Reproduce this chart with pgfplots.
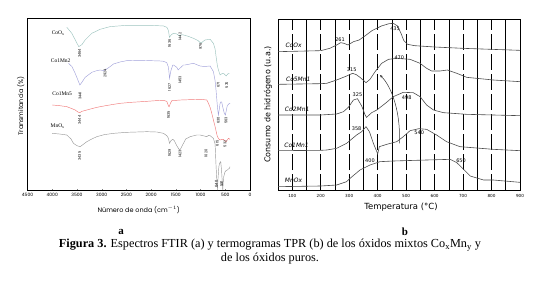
\documentclass[border=0pt]{standalone}
\usepackage{pgfplots}
\pgfplotsset{compat=1.18}
\usepackage{fontspec}
\setmainfont{Liberation Serif}
\newfontfamily\lsans{Poppins}
\newfontfamily\rsans{DejaVu Sans}
\usetikzlibrary{arrows.meta}
\definecolor{cCo}{HTML}{9CC3BE}
\definecolor{cMn2}{HTML}{A2A2DA}
\definecolor{cMn5}{HTML}{F07A7A}
\definecolor{cMn}{HTML}{9A9A9A}
\begin{document}
\begin{tikzpicture}[x=1bp,y=1bp,
  peak/.style={font=\lsans\fontsize{3.6}{4}\selectfont, rotate=90, inner sep=0pt},
  nmA/.style={font=\fontsize{5.5}{6}\selectfont, inner sep=0.5pt},
  pk/.style={font=\rsans\fontsize{5}{6}\selectfont, inner sep=0.5pt},
  nmB/.style={font=\rsans\itshape\fontsize{6}{7}\selectfont, inner sep=0.5pt, anchor=west}]
\useasboundingbox (0,0) rectangle (539,284);
% ---------------- panel a: FTIR ----------------
\begin{axis}[at={(27.5bp,93.3bp)}, anchor=south west, scale only axis,
  width=222.5bp, height=172.4bp,
  xmin=0, xmax=4500, x dir=reverse, ymin=0, ymax=517,
  ytick=\empty, xtick={0,500,...,4500}, minor x tick num=4,
  tick align=inside, xtick pos=bottom, major tick length=2bp, minor tick length=1bp,
  axis line style={line width=0.7pt},
  xticklabel style={font=\lsans\fontsize{4.5}{5}\selectfont, yshift=1bp},
  xlabel={Número de onda (cm$^{-1}$)},
  xlabel style={font=\lsans\fontsize{6.5}{7}\selectfont, at={(axis description cs:0.5,-0.11)}, anchor=center},
  ylabel={Transmitancia (\%)},
  ylabel style={font=\lsans\fontsize{6.5}{7}\selectfont, at={(axis description cs:-0.03,0.49)}, anchor=center},
  clip=false,
  /pgf/number format/.cd, 1000 sep={}, assume math mode=true,
]
\addplot[cCo, line width=0.45pt] coordinates {
(3705,490) (3604,472) (3516,447) (3464,432) (3400,438) (3334,452) (3199,472) (3031,484)
(2829,492) (2492,496) (2020,496) (1750,494) (1683,490) (1649,480) (1629,460) (1590,468)
(1548,472) (1480,470) (1427,464) (1380,468) (1346,467) (1250,463) (1144,457) (1050,450)
(1009,444) (976,444) (930,450) (908,452) (807,454) (740,442) (706,425) (686,402) (660,375)
(639,362) (605,347) (580,350) (551,352) (520,350) (484,344) (450,350) (417,352)};
\addplot[cMn2, line width=0.45pt] coordinates {
(3671,382) (3600,372) (3536,352) (3489,335) (3441,317) (3400,325) (3334,340) (3199,355)
(3098,360) (3031,362) (2963,360) (2930,362) (2829,372) (2761,380) (2627,386) (2492,390)
(2222,391) (2020,390) (1818,389) (1750,388) (1683,384) (1649,370) (1627,337) (1600,360)
(1562,377) (1548,377) (1481,370) (1453,362) (1413,368) (1346,377) (1312,377) (1144,382)
(1077,378) (1009,374) (908,372) (874,373) (807,374) (740,357) (706,330) (686,300) (665,262)
(650,240) (639,227) (625,240) (605,262) (585,267) (571,265) (550,250) (520,232) (497,227)
(480,240) (460,255) (430,260) (403,262)};
\addplot[cMn5, line width=0.45pt] coordinates {
(4000,257) (3850,255) (3705,252) (3600,246) (3536,242) (3480,236) (3444,234) (3400,238)
(3300,242) (3150,248) (3031,252) (2800,258) (2627,262) (2400,265) (2087,268) (1900,270)
(1750,271) (1683,268) (1649,254) (1635,252) (1610,262) (1580,270) (1400,272) (1211,273)
(1000,274) (874,272) (841,262) (807,250) (773,232) (740,212) (706,192) (680,175) (659,162)
(630,155) (605,152) (570,154) (538,154) (510,150) (484,147) (460,152) (437,157) (403,154)};
\addplot[cMn, line width=0.45pt] coordinates {
(4000,172) (3850,170) (3705,167) (3620,155) (3570,142) (3500,135) (3435,132) (3380,138)
(3300,147) (3200,155) (3098,162) (2950,168) (2761,172) (2500,175) (2087,177) (1885,176)
(1750,172) (1683,165) (1649,157) (1629,142) (1600,150) (1562,154) (1530,150) (1481,135)
(1427,122) (1400,126) (1346,142) (1300,155) (1211,162) (1077,167) (1009,167) (950,165)
(874,162) (840,166) (807,165) (740,157) (706,140) (686,72) (670,30) (659,2) (650,30)
(630,72) (619,80) (605,85) (592,87) (575,60) (551,2) (535,40) (504,57) (484,60) (457,62)
(437,65) (416,67) (405,72)};
% series names
\node[nmA, fill=white] at (axis cs:3880,472) {CoO\textsubscript{x}};
\node[nmA, fill=white] at (axis cs:3830,390) {Co1Mn2};
\node[nmA] at (axis cs:3800,292) {Co1Mn5};
\node[nmA] at (axis cs:3890,192) {MnO\textsubscript{x}};
% peak labels
\node[peak] at (axis cs:3449,412) {3464};
\node[peak] at (axis cs:1629,442) {1636};
\node[peak] at (axis cs:1413,462) {1442};
\node[peak] at (axis cs:1000,432) {976};
\node[peak] at (axis cs:639,317) {671};
\node[peak] at (axis cs:470,317) {570};
\node[peak] at (axis cs:3435,284) {3441};
\node[peak] at (axis cs:2930,352) {2924};
\node[peak] at (axis cs:1629,310) {1627};
\node[peak] at (axis cs:1413,332) {1453};
\node[peak] at (axis cs:639,210) {630};
\node[peak] at (axis cs:484,210) {563};
\node[peak] at (axis cs:3449,212) {3444};
\node[peak] at (axis cs:1649,227) {1635};
\node[peak] at (axis cs:659,142) {615};
\node[peak] at (axis cs:504,140) {532};
\node[peak] at (axis cs:3449,104) {3435};
\node[peak] at (axis cs:1629,114) {1629};
\node[peak] at (axis cs:1413,110) {1423};
\node[peak] at (axis cs:890,112) {1020};
\node[peak] at (axis cs:680,20) {640};
\node[peak] at (axis cs:575,20) {591};
\end{axis}
% ---------------- panel b: TPR ----------------
\begin{axis}[at={(278bp,94bp)}, anchor=south west, scale only axis,
  width=242bp, height=171bp,
  xmin=50, xmax=900, ymin=0, ymax=513,
  ytick=\empty, xtick={100,200,...,900}, minor xtick={150,250,...,850},
  xtick pos=bottom, major tick length=0pt, minor tick length=0pt,
  xmajorgrids, xminorgrids,
  major grid style={black, line width=0.6pt, dash pattern=on 16bp off 4bp},
  minor grid style={black, line width=0.6pt},
  axis line style={line width=0.8pt},
  xticklabel style={font=\rsans\fontsize{4.2}{5}\selectfont, yshift=-1bp},
  xlabel={Temperatura (°C)},
  xlabel style={font=\rsans\fontsize{8.5}{9}\selectfont, at={(axis description cs:0.508,-0.1)}, anchor=center},
  ylabel={Consumo de hidrógeno (u.a.)},
  ylabel style={font=\rsans\fontsize{8}{9}\selectfont, at={(axis description cs:-0.041,0.5)}, anchor=center},
  clip=false,
  /pgf/number format/.cd, 1000 sep={}, assume math mode=true,
]
\addplot[black!70, line width=0.6pt] coordinates {
(50,415) (200,418) (232,425) (256,435) (270,442) (282,440) (296,435) (315,445) (335,450)
(355,462) (380,478) (413,492) (440,499) (455,500) (470,492) (482,470) (492,448) (505,437)
(530,433) (600,429) (700,425) (800,422) (900,419)};
\addplot[black!70, line width=0.6pt] coordinates {
(50,317) (200,319) (221,320) (256,330) (291,342) (312,350) (325,346) (338,338) (359,322)
(373,332) (391,355) (414,380) (438,392) (467,395) (514,392) (549,380) (572,365) (590,357)
(619,357) (645,360) (678,350) (713,338) (806,330) (900,325)};
\addplot[black!70, line width=0.6pt] coordinates {
(50,225) (200,225) (256,228) (280,235) (297,248) (315,270) (329,274) (344,252) (356,225)
(361,218) (379,232) (397,240) (427,260) (455,280) (490,293) (525,292) (549,280) (572,255)
(596,240) (631,232) (713,227) (900,223)};
\addplot[black!70, line width=0.6pt] coordinates {
(50,118) (200,119) (221,120) (256,125) (291,140) (326,165) (344,175) (359,190) (371,175)
(385,140) (397,115) (400,108) (406,130) (432,137) (467,145) (490,160) (514,178) (545,184)
(572,182) (607,165) (642,145) (689,130) (806,122) (900,118)};
\addplot[black!70, line width=0.6pt] coordinates {
(50,10) (200,12) (256,15) (291,25) (303,35) (338,60) (373,75) (408,85) (455,87) (572,90)
(655,92) (678,82) (702,62) (725,42) (772,30) (806,30) (900,23)};
\draw[black!80, line width=0.5pt, -{Stealth[length=3bp,width=2.5bp]}]
  (axis cs:476,140) .. controls (axis cs:482,230) and (axis cs:450,310) .. (axis cs:408,345);
% names
\node[nmB] at (axis cs:74,435) {CoOx};
\node[nmB] at (axis cs:76,333) {Co5Mn1};
\node[nmB] at (axis cs:72,242) {Co2Mn1};
\node[nmB] at (axis cs:70,135) {Co1Mn1};
\node[nmB] at (axis cs:72,30) {MnOx};
% peak labels
\node[pk] at (axis cs:268,450) {261};
\node[pk] at (axis cs:461,483) {435};
\node[pk] at (axis cs:309,360) {315};
\node[pk] at (axis cs:476,398) {470};
\node[pk] at (axis cs:329,285) {325};
\node[pk] at (axis cs:502,278) {498};
\node[pk] at (axis cs:326,185) {358};
\node[pk] at (axis cs:546,172) {540};
\node[pk] at (axis cs:373,87) {400};
\node[pk] at (axis cs:693,87) {650};
\end{axis}
% ---------------- sub-labels and caption ----------------
\node[font=\bfseries\fontsize{11}{12}\selectfont, inner sep=0pt] at (121,52.5) {a};
\node[font=\bfseries\fontsize{11}{12}\selectfont, inner sep=0pt] at (405,52.5) {b};
\node[font=\fontsize{12.3}{13}\selectfont, inner sep=0pt] at (270,39) {\textbf{Figura 3.} Espectros FTIR (a) y termogramas TPR (b) de los óxidos mixtos Co\textsubscript{x}Mn\textsubscript{y} y};
\node[font=\fontsize{12.3}{13}\selectfont, inner sep=0pt] at (270,25) {de los óxidos puros.};
\end{tikzpicture}
\end{document}
